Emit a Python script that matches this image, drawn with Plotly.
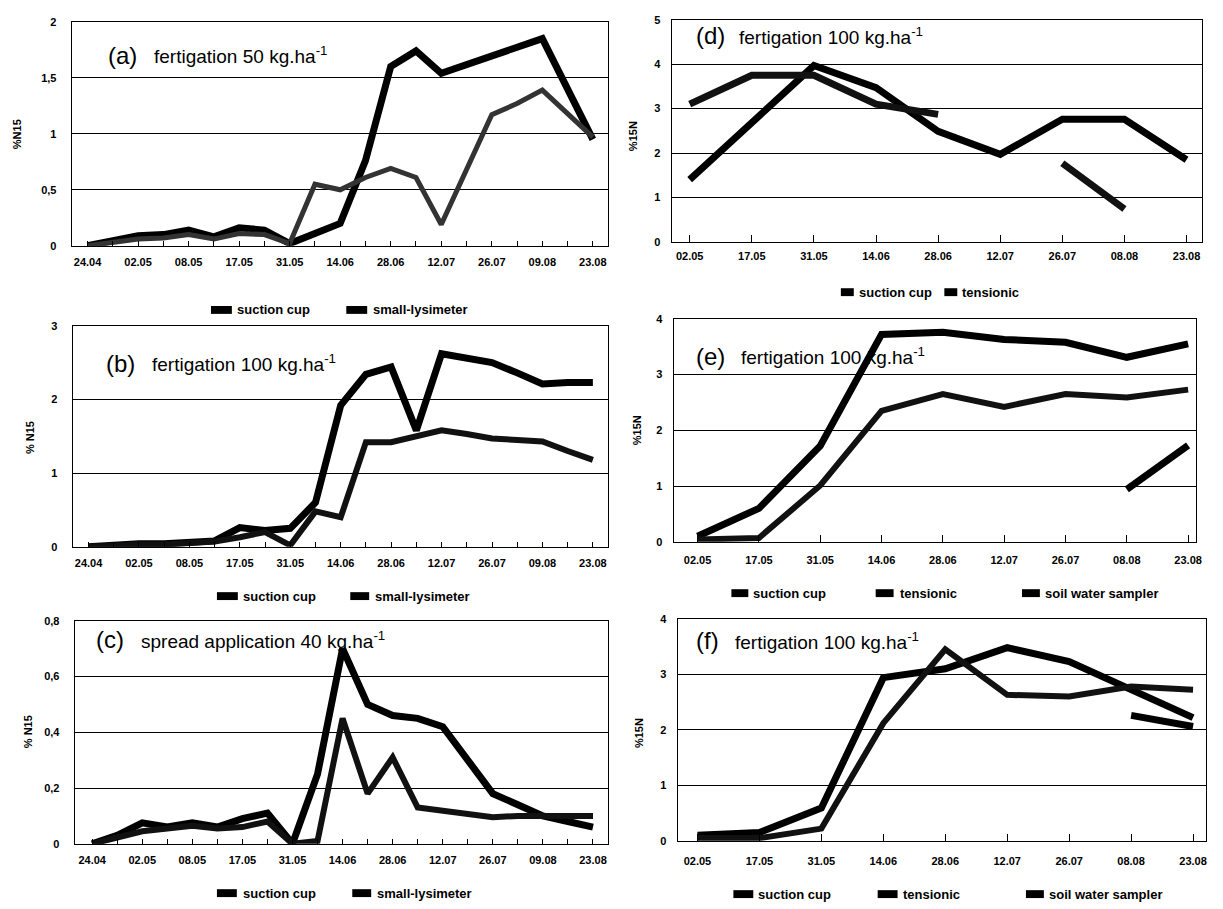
import plotly.graph_objects as go

W, H = 1223, 909

# ---------------- data ----------------
LEFT_DATES = ["24.04", "02.05", "08.05", "17.05", "31.05", "14.06",
              "28.06", "12.07", "26.07", "09.08", "23.08"]
RIGHT_DATES = ["02.05", "17.05", "31.05", "14.06", "28.06",
               "12.07", "26.07", "08.08", "23.08"]

A_SUCTION = [0, 0.05, 0.09, 0.10, 0.14, 0.08, 0.16, 0.14, 0.02, 0.11, 0.20,
             0.76, 1.60, 1.74, 1.54, None, None, None, 1.85, None, 0.95]
A_LYSI = [0, 0.03, 0.06, 0.07, 0.10, 0.06, 0.11, 0.10, 0.02, 0.55, 0.50,
          0.61, 0.69, 0.61, 0.19, None, 1.17, 1.27, 1.39, None, 0.97]

B_SUCTION = [0, 0.03, 0.04, 0.04, 0.06, 0.08, 0.26, 0.22, 0.25, 0.60, 1.92,
             2.34, 2.44, 1.58, 2.62, 2.56, 2.50, 2.36, 2.21, 2.23, 2.23]
B_LYSI = [0, 0.02, 0.03, 0.03, 0.05, 0.07, 0.13, 0.20, 0.02, 0.48, 0.40,
          1.42, 1.42, 1.50, 1.58, 1.53, 1.47, 1.45, 1.43, 1.30, 1.18]

C_SUCTION = [0, 0.03, 0.075, 0.06, 0.075, 0.06, 0.09, 0.11, 0, 0.25, 0.70,
             0.50, 0.46, 0.45, 0.42, 0.30, 0.18, 0.14, 0.10, 0.08, 0.06]
C_LYSI = [0, 0.02, 0.045, 0.055, 0.065, 0.055, 0.06, 0.08, 0, 0.01, 0.45,
          0.18, 0.31, 0.13, 0.12, 0.11, 0.095, 0.10, 0.10, 0.10, 0.10]

D_SUCTION = [1.40, 2.70, 3.97, 3.47, 2.49, 1.97, 2.76, 2.76, 1.85]
D_TENSIONIC = [3.10, 3.75, 3.75, 3.10, 2.87, None, 1.77, 0.74, None]

E_SUCTION = [0.10, 0.60, 1.72, 3.72, 3.76, 3.63, 3.58, 3.31, 3.55]
E_TENSIONIC = [0.04, 0.07, 1.01, 2.35, 2.65, 2.42, 2.65, 2.59, 2.73]
E_SOIL = [None, None, None, None, None, None, None, 0.94, 1.73]

F_SUCTION = [0.10, 0.15, 0.59, 2.94, 3.10, 3.48, 3.23, 2.72, 2.22]
F_TENSIONIC = [0.05, 0.05, 0.22, 2.12, 3.45, 2.63, 2.60, 2.78, 2.72]
F_SOIL = [None, None, None, None, None, None, None, 2.26, 2.06]

# ---------------- helpers ----------------
def fx(px):
    return px / W

def fy(py):
    return 1 - py / H

FONT = "Liberation Sans Narrow, Arial Narrow, Liberation Sans, Arial, sans-serif"
TICKFONT = dict(family=FONT, size=11, color="black", weight="bold")

fig = go.Figure()

# panel geometry in pixels: x0, x1, ytop, ybottom
panels = {
    "a": dict(ax="", dom=(72, 611, 16, 243), xr=[-0.63, 20.6], yr=[0, 2], dt=0.5, so=6),
    "b": dict(ax="2", dom=(73, 611, 324, 548), xr=[-0.63, 20.6], yr=[0, 3], dt=1, so=6),
    "c": dict(ax="3", dom=(75, 611, 623, 849), xr=[-0.70, 20.6], yr=[0, 0.8], dt=0.2, so=6),
    "d": dict(ax="4", dom=(675, 1208, 14, 239), xr=[-0.29, 8.25], yr=[0, 5], dt=1, so=4),
    "e": dict(ax="5", dom=(677, 1202, 317, 543), xr=[-0.39, 8.13], yr=[0, 4], dt=1, so=8),
    "f": dict(ax="6", dom=(681, 1212, 621, 846), xr=[-0.32, 8.21], yr=[0, 4], dt=1, so=10),
}

left_x = list(range(2 * len(LEFT_DATES) - 1))
left_major = left_x[::2]
right_x = list(range(len(RIGHT_DATES)))

series = [
    ("a", "suction cup", A_SUCTION, left_x, "#000000", 7, True),
    ("a", "small-lysimeter", A_LYSI, left_x, "#333333", 5, True),
    ("b", "suction cup", B_SUCTION, left_x, "#000000", 7, True),
    ("b", "small-lysimeter", B_LYSI, left_x, "#111111", 6, True),
    ("c", "suction cup", C_SUCTION, left_x, "#000000", 7, True),
    ("c", "small-lysimeter", C_LYSI, left_x, "#111111", 6, True),
    ("d", "suction cup", D_SUCTION, right_x, "#000000", 7, False),
    ("d", "tensionic", D_TENSIONIC, right_x, "#111111", 7, False),
    ("e", "suction cup", E_SUCTION, right_x, "#000000", 7, False),
    ("e", "tensionic", E_TENSIONIC, right_x, "#111111", 6, False),
    ("e", "soil water sampler", E_SOIL, right_x, "#000000", 7, False),
    ("f", "suction cup", F_SUCTION, right_x, "#000000", 7, False),
    ("f", "tensionic", F_TENSIONIC, right_x, "#111111", 6, False),
    ("f", "soil water sampler", F_SOIL, right_x, "#000000", 7, False),
]

for key, name, ys, xs, col, w, gaps in series:
    ax = panels[key]["ax"]
    fig.add_trace(go.Scatter(
        x=xs, y=ys, mode="lines", name=name,
        line=dict(color=col, width=w),
        connectgaps=gaps, showlegend=False,
        xaxis="x" + ax, yaxis="y" + ax,
        hoverinfo="skip",
    ))

layout = dict(
    width=W, height=H,
    margin=dict(l=0, r=0, t=0, b=0),
    paper_bgcolor="white", plot_bgcolor="white",
    separators=", ",
    font=dict(family=FONT, color="black"),
    showlegend=False,
)

for key, p in panels.items():
    x0, x1, yt, yb = p["dom"]
    ax = p["ax"]
    left = key in "abc"
    xa = dict(
        domain=[fx(x0), fx(x1)], range=p["xr"], anchor="y" + ax,
        tickmode="array",
        tickvals=left_major if left else right_x,
        ticktext=LEFT_DATES if left else RIGHT_DATES,
        ticks="inside", ticklen=5 if left else 7, tickwidth=1, tickcolor="black",
        showgrid=False, zeroline=False,
        showline=True, mirror=True, linecolor="black", linewidth=1,
        tickfont=TICKFONT, ticklabelstandoff=p["so"],
        fixedrange=True,
    )
    if left:
        xa["minor"] = dict(tickmode="linear", tick0=0, dtick=1, ticks="inside",
                           ticklen=5, tickwidth=1, tickcolor="black", showgrid=False)
    layout["xaxis" + ax] = xa
    layout["yaxis" + ax] = dict(
        domain=[fy(yb), fy(yt)], range=p["yr"], anchor="x" + ax,
        dtick=p["dt"], tick0=0,
        showgrid=True, gridcolor="black", gridwidth=1,
        zeroline=False, ticks="",
        showline=True, mirror=True, linecolor="black", linewidth=1,
        tickfont=TICKFONT, ticklabelstandoff=12 if left else 8,
        fixedrange=True,
    )

fig.update_layout(**layout)

# legends drawn below / above each panel: (label, box x0, box x1, text x, y)
LEGEND_ITEMS = [
    ("suction cup", 212, 233, 236, 308), ("small-lysimeter", 348, 369, 373, 308),
    ("suction cup", 218, 239, 242, 598), ("small-lysimeter", 352, 371, 375, 598),
    ("suction cup", 218, 238, 242, 899), ("small-lysimeter", 354, 373, 377, 899),
    ("suction cup", 845, 858, 861, 290), ("tensionic", 949, 962, 965, 290),
    ("suction cup", 735, 752, 755, 595), ("tensionic", 880, 898, 902, 595),
    ("soil water sampler", 1027, 1045, 1048, 595),
    ("suction cup", 737, 757, 760, 900), ("tensionic", 882, 902, 905, 900),
    ("soil water sampler", 1031, 1049, 1052, 900),
]
for label, bx0, bx1, tx, yc in LEGEND_ITEMS:
    fig.add_shape(type="rect", xref="paper", yref="paper",
                  x0=fx(bx0), x1=fx(bx1), y0=fy(yc + 4), y1=fy(yc - 4),
                  fillcolor="black", line=dict(width=0))
    fig.add_annotation(text=label, x=fx(tx), y=fy(yc), xref="paper", yref="paper",
                       xanchor="left", yanchor="middle", showarrow=False,
                       font=dict(family=FONT, size=13, color="black", weight="bold"))

# panel titles
titles = [
    ("(a)", "fertigation 50 kg.ha<sup>-1</sup>", 107, 153, 50),
    ("(b)", "fertigation 100 kg.ha<sup>-1</sup>", 105, 151, 362),
    ("(c)", "spread application 40 kg.ha<sup>-1</sup>", 94, 140, 642),
    ("(d)", "fertigation 100 kg.ha<sup>-1</sup>", 697, 741, 30),
    ("(e)", "fertigation 100 kg.ha<sup>-1</sup>", 697, 743, 355),
    ("(f)", "fertigation 100 kg.ha<sup>-1</sup>", 697, 737, 643),
]
for lab, txt, xl, xt, yc in titles:
    fig.add_annotation(text=lab, x=fx(xl), y=fy(yc), xref="paper", yref="paper",
                       xanchor="left", yanchor="middle", showarrow=False,
                       font=dict(family=FONT, size=24, color="black"))
    fig.add_annotation(text=txt, x=fx(xt), y=fy(yc), xref="paper", yref="paper",
                       xanchor="left", yanchor="middle", showarrow=False,
                       font=dict(family=FONT, size=19, color="black"))

# y-axis titles
ytitles = [
    ("%N15", 17, 130), ("% N15", 30, 437), ("% N15", 28, 735),
    ("%15N", 636, 132), ("%15N", 640, 430), ("%15N", 642, 737),
]
for txt, xc, yc in ytitles:
    fig.add_annotation(text=txt, x=fx(xc), y=fy(yc), xref="paper", yref="paper",
                       xanchor="center", yanchor="middle", showarrow=False,
                       textangle=-90,
                       font=dict(family=FONT, size=11, color="black", weight="bold"))

fig.write_html("out.html")
